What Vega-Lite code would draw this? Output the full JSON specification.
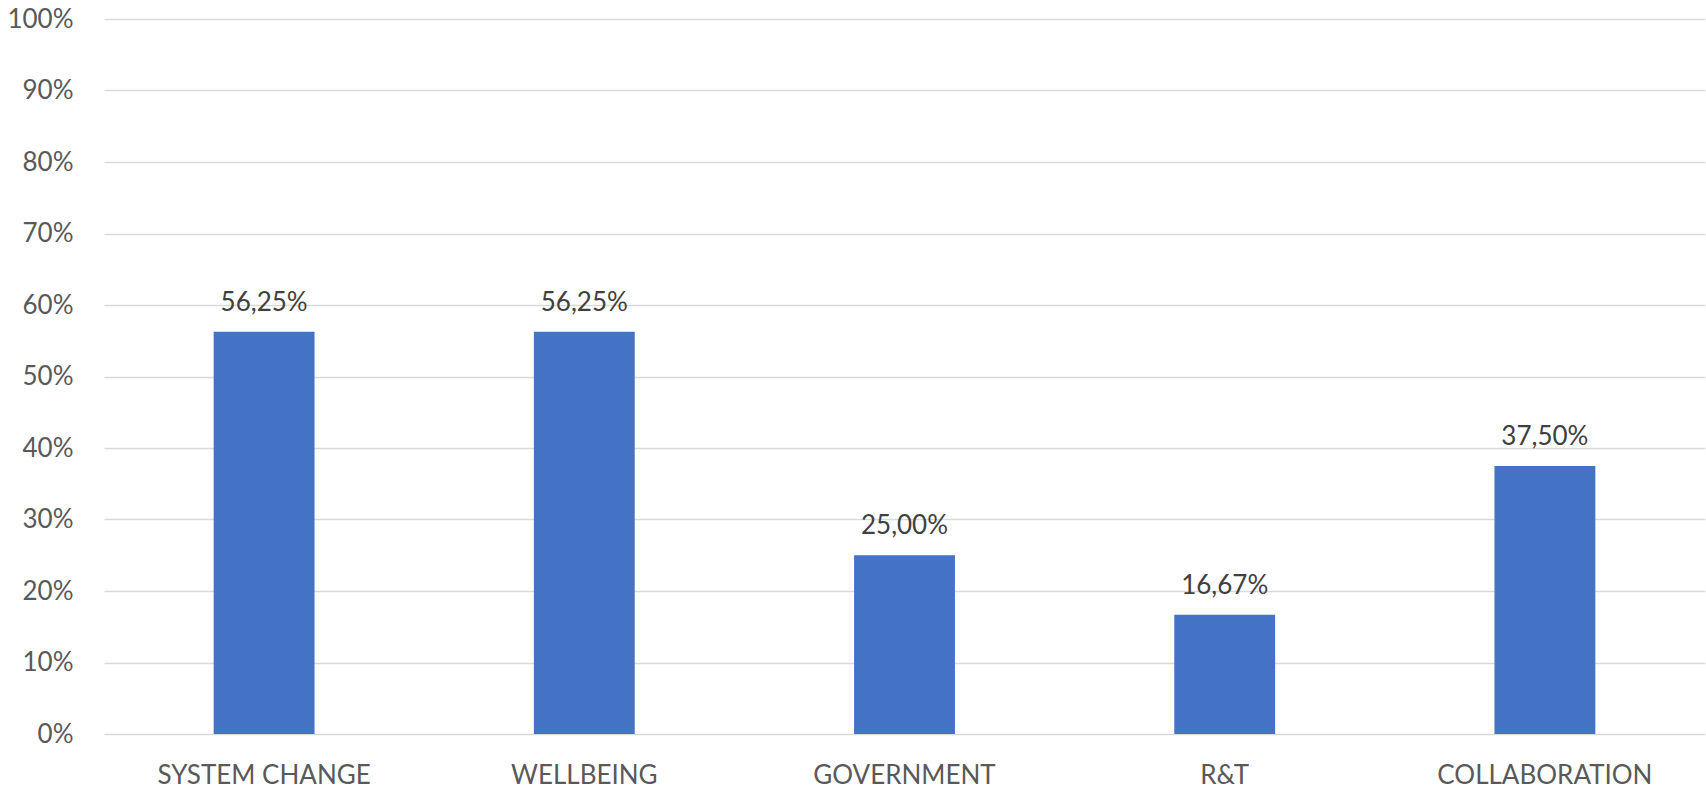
{
  "$schema": "https://vega.github.io/schema/vega-lite/v6.json",
  "autosize": {"type": "none"},
  "padding": {"left": 104, "top": 19, "right": 1, "bottom": 57},
  "width": 1601,
  "height": 715,
  "background": "white",
  "config": {
    "view": {"stroke": null},
    "font": "Lato",
    "locale": {"number": {"decimal": ",", "thousands": ".", "grouping": [3], "currency": ["", " €"]}}
  },
  "data": {
    "values": [
      {"category": "SYSTEM CHANGE", "value": 0.5625},
      {"category": "WELLBEING", "value": 0.5625},
      {"category": "GOVERNMENT", "value": 0.25},
      {"category": "R&T", "value": 0.1667},
      {"category": "COLLABORATION", "value": 0.375}
    ]
  },
  "encoding": {
    "x": {
      "field": "category", "type": "nominal", "sort": null,
      "scale": {"paddingInner": 0, "paddingOuter": 0},
      "axis": {
        "title": null, "labelAngle": 0, "ticks": false, "domain": false,
        "labelFontSize": 26, "labelColor": "#595959", "labelPadding": 28,
        "labelFont": "Lato", "labelLimit": 600
      }
    },
    "y": {
      "field": "value", "type": "quantitative",
      "scale": {"domain": [0, 1], "nice": false},
      "axis": {
        "title": null, "format": ".0%", "values": [0, 0.1, 0.2, 0.3, 0.4, 0.5, 0.6, 0.7, 0.8, 0.9, 1],
        "ticks": false, "domain": false, "grid": true, "gridColor": "#d9d9d9", "gridWidth": 1.5,
        "labelFontSize": 26, "labelColor": "#595959", "labelPadding": 31, "labelFont": "Lato"
      }
    }
  },
  "layer": [
    {
      "mark": {"type": "bar", "color": "#4472C4", "width": {"band": 0.315}}
    },
    {
      "mark": {"type": "text", "baseline": "alphabetic", "dy": -21, "fontSize": 26, "color": "#404040", "font": "Lato"},
      "encoding": {
        "text": {"field": "value", "type": "quantitative", "format": ".2%"}
      }
    }
  ]
}
